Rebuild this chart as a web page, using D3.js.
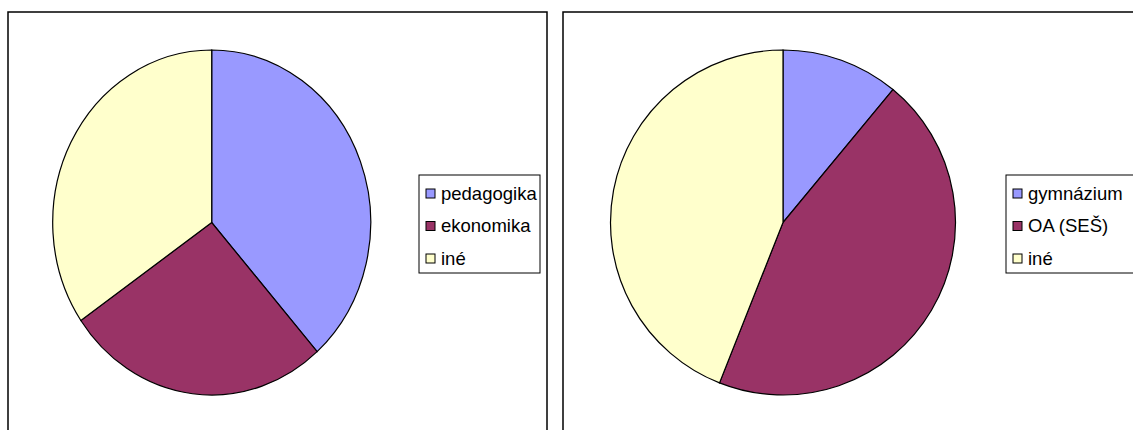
<!DOCTYPE html>
<html>
<head>
<meta charset="utf-8">
<script src="https://cdn.jsdelivr.net/npm/d3@7"></script>
<style>
  body { margin: 0; background: #fff; }
  text { font-family: Arial, "Liberation Sans", sans-serif; }
</style>
</head>
<body>
<svg id="chart" width="1133" height="430"></svg>
<script>
// left chart - study field
var fieldLabels = ["pedagogika", "ekonomika", "iné"];
var fieldValues = [10, 7, 9];

// right chart - school type
var schoolLabels = ["gymnázium", "OA (SEŠ)", "iné"];
var schoolValues = [11, 45, 44];

var colors = ["#9999FF", "#993366", "#FFFFCC"];

let svg = d3.select("#chart");

function drawPanel(opts) {
    let g = svg.append("g").attr("transform", "translate(" + opts.x + "," + opts.y + ")");

    // border of chart area
    g.append("rect")
        .attr("x", 0).attr("y", 0)
        .attr("width", opts.w).attr("height", opts.h)
        .attr("fill", "white")
        .attr("stroke", "black")
        .attr("stroke-width", 1.5);

    let pie = d3.pie().sort(null).value(d => d)(opts.values);
    let arc = d3.arc().innerRadius(0).outerRadius(opts.r);

    let color = d3.scaleOrdinal().domain(opts.labels).range(colors);

    let pg = g.append("g")
        .attr("transform", "translate(" + opts.cx + "," + opts.cy + ") scale(" + opts.sx + ",1)");

    pg.selectAll("path")
        .data(pie)
        .enter()
        .append("path")
        .attr("d", arc)
        .attr("fill", (d, i) => color(opts.labels[i]))
        .attr("stroke", "black")
        .attr("stroke-width", 1.2)
        .attr("vector-effect", "non-scaling-stroke");

    // legend
    let lg = g.append("g").attr("transform", "translate(" + opts.lx + "," + opts.ly + ")");
    lg.append("rect")
        .attr("width", opts.lw).attr("height", 98)
        .attr("fill", "white")
        .attr("stroke", "black")
        .attr("stroke-width", 1);

    let items = lg.selectAll("g.item")
        .data(opts.labels)
        .enter()
        .append("g")
        .attr("class", "item")
        .attr("transform", (d, i) => "translate(7," + (18 + i * 32.5) + ")");

    items.append("rect")
        .attr("x", 0).attr("y", -4)
        .attr("width", 9).attr("height", 9)
        .attr("fill", d => color(d))
        .attr("stroke", "black")
        .attr("stroke-width", 1);

    items.append("text")
        .attr("x", 15)
        .attr("y", 6.5)
        .attr("font-size", 18.5)
        .text(d => d);
}

drawPanel({x: 8, y: 12, w: 539, h: 440, cx: 203.7, cy: 210.5, r: 172.5, sx: 159 / 172.5,
    values: fieldValues, labels: fieldLabels, lx: 411, ly: 163, lw: 121});

drawPanel({x: 563, y: 12, w: 600, h: 440, cx: 220, cy: 210.5, r: 172.5, sx: 1,
    values: schoolValues, labels: schoolLabels, lx: 443, ly: 163, lw: 130});
</script>
</body>
</html>
